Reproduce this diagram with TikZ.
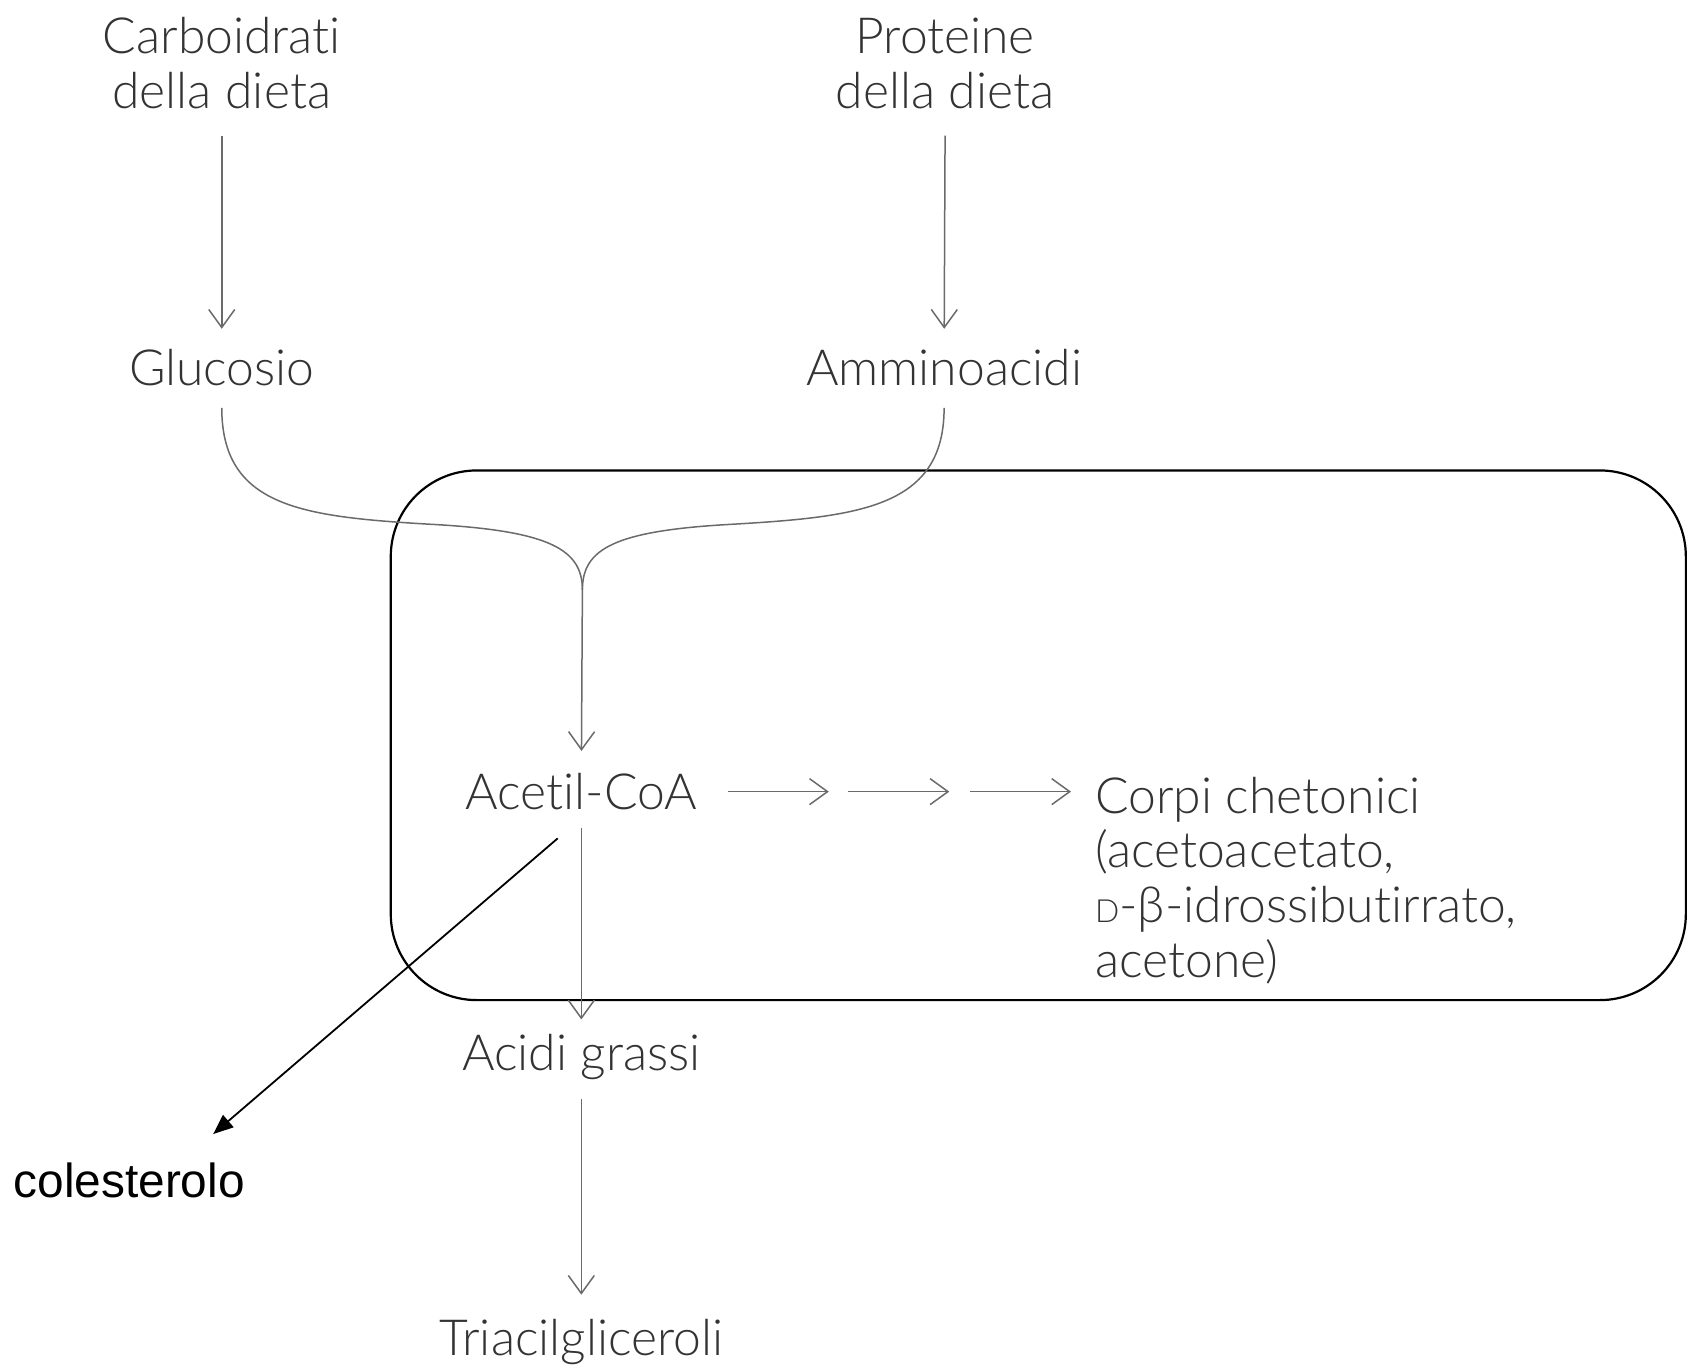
\documentclass[tikz,border=0pt]{standalone}
\usepackage{fontspec}
\setmainfont{Lato Light}[Ligatures=NoCommon]
\newfontfamily\arialfont{Liberation Sans}
\usetikzlibrary{arrows.meta,calc}
\definecolor{ink}{HTML}{333333}
\definecolor{flow}{HTML}{6A6A6A}
\begin{document}
\begin{tikzpicture}[x=0.5383bp,y=-0.5383bp,
  lbl/.style={inner sep=0pt, text=ink, font=\fontsize{25}{27.5}\selectfont},
  flowline/.style={draw=flow, line width=0.75bp},
  flowarrow/.style={flowline, -{Straight Barb[length=9bp,width=13bp,line width=0.75bp]}},
  cholarrow/.style={draw=black, line width=0.9bp, -{Triangle[length=10bp,width=8bp]}},
  cellbox/.style={draw=black, line width=1.1bp, rounded corners=43bp}]
\useasboundingbox (0,0) rectangle (1568,1273);

% metabolites (multi-line nodes are placed by the baseline of their last line)
\node[lbl, align=center, anchor=base] (carb) at (206,101) {Carboidrati\\della dieta};
\node[lbl, align=center, anchor=base] (prot) at (878,101) {Proteine\\della dieta};
\node[lbl, anchor=base] (glu) at (206,358) {Glucosio};
\node[lbl, anchor=base] (amm) at (877,358) {Amminoacidi};
\node[lbl, anchor=base] (acetil) at (540,752) {Acetil-CoA};
\node[lbl, align=left, anchor=base west] (corpi) at (1017,908)
  {Corpi chetonici\\(acetoacetato,\\{\fontsize{16}{16}\selectfont D}-β-idrossibutirrato,\\acetone)};
\node[lbl, anchor=base] (acidi) at (540,994) {Acidi grassi};
\node[lbl, anchor=base] (tria) at (540,1259) {Triacilgliceroli};
\node[inner sep=0pt, anchor=base, font=\arialfont\fontsize{24}{28}\selectfont] (chol) at (120,1112) {colesterolo};

% liver cell compartment
\draw[cellbox] (363,437) rectangle (1566,929);

% converging pathways
\coordinate (merge) at (541,548);
\draw[flowarrow, shorten <=13bp, shorten >=10bp] (carb.south) -- (glu.north);
\draw[flowarrow, shorten <=13bp, shorten >=10bp] (prot.south) -- (amm.north);
\draw[flowline] ([yshift=-10.8bp]glu.south) .. controls +(0,92) and (280,480) .. (400,487)
  .. controls (510,493) and (541,510) .. (merge);
\draw[flowline] ([yshift=-10.8bp]amm.south) .. controls +(0,92) and (800,480) .. (680,487)
  .. controls (570,493) and (541,510) .. (merge);
\draw[flowarrow, shorten >=11bp] (merge) -- (acetil.north);
\draw[flowarrow, shorten <=8.6bp, shorten >=7bp] (acetil.south) -- (acidi.north);
\draw[flowarrow, shorten <=9.7bp, shorten >=12bp] (acidi.south) -- (tria.north);

% ketogenesis steps
\coordinate (k0) at ($(acetil.east)+(28,0)$);
\coordinate (k1) at ($(k0)+(94,0)$);
\coordinate (k2) at ($(k1)+(18,0)$);
\coordinate (k3) at ($(k2)+(94,0)$);
\coordinate (k4) at ($(k3)+(19,0)$);
\coordinate (k5) at ($(k4)+(94,0)$);
\draw[flowarrow] (k0) -- (k1);
\draw[flowarrow] (k2) -- (k3);
\draw[flowarrow] (k4) -- (k5);

% cholesterol branch
\draw[cholarrow] ([xshift=-11.8bp,yshift=-14bp]acetil.south) -- ([xshift=42bp,yshift=14bp]chol.north);
\end{tikzpicture}
\end{document}
